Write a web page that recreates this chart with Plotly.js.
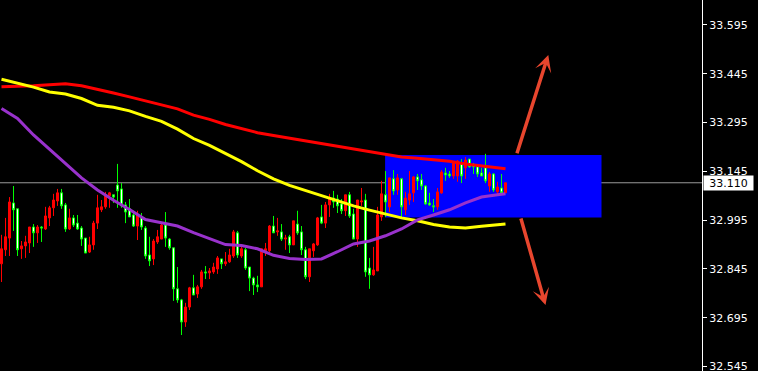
<!DOCTYPE html>
<html>
<head>
<meta charset="utf-8">
<script src="https://cdn.plot.ly/plotly-3.0.1.min.js"></script>
<style>
  html, body { margin: 0; padding: 0; background: #000000; }
  #chart { width: 758px; height: 371px; }
</style>
</head>
<body>
<div id="chart"></div>
<script>
// OHLC bars, oldest first
const openP = [
  32.861, 32.904, 32.940, 33.048, 33.030, 32.907, 32.916, 32.925, 32.974, 32.956,
  32.974, 32.968, 33.002, 33.033, 33.054, 33.079, 33.042, 32.968, 33.002, 32.986,
  32.971, 32.940, 32.897, 32.919, 32.986, 33.027, 33.036, 33.070, 33.073, 33.103,
  33.091, 33.042, 33.030, 33.011, 32.977, 33.005, 32.971, 32.888, 32.876, 32.928,
  32.937, 32.980, 32.937, 32.910, 32.784, 32.750, 32.682, 32.728, 32.787, 32.768,
  32.790, 32.836, 32.833, 32.836, 32.845, 32.876, 32.861, 32.867, 32.885, 32.956,
  32.885, 32.904, 32.851, 32.817, 32.796, 32.790, 32.901, 32.901, 32.977, 32.959,
  32.959, 32.937, 32.944, 32.919, 32.983, 32.959, 32.904, 32.821, 32.901, 32.919,
  33.005, 32.986, 33.042, 33.063, 33.060, 33.045, 33.024, 33.073, 33.014, 32.937,
  33.051, 33.057, 32.848, 32.827, 32.839, 33.005, 33.073, 33.036, 33.122, 33.088,
  33.122, 33.027, 33.057, 33.079, 33.128, 33.119, 33.100, 33.048, 33.039, 33.036,
  33.079, 33.140, 33.137, 33.131, 33.131, 33.171, 33.156, 33.183, 33.165, 33.159,
  33.140, 33.156, 33.100, 33.137, 33.082, 33.094, 33.079
];
const highP = [
  32.950, 33.002, 33.066, 33.100, 33.030, 32.931, 32.947, 32.974, 32.983, 32.980,
  32.977, 33.036, 33.039, 33.076, 33.091, 33.091, 33.048, 33.030, 33.011, 33.011,
  32.977, 32.940, 32.944, 32.993, 33.073, 33.057, 33.082, 33.082, 33.073, 33.168,
  33.109, 33.051, 33.060, 33.024, 33.024, 33.017, 32.977, 32.944, 32.937, 32.965,
  32.986, 33.020, 32.940, 32.910, 32.851, 32.753, 32.741, 32.790, 32.827, 32.796,
  32.842, 32.854, 32.848, 32.864, 32.885, 32.876, 32.897, 32.907, 32.965, 32.962,
  32.919, 32.910, 32.851, 32.821, 32.824, 32.907, 32.925, 32.980, 33.008, 33.002,
  32.983, 32.950, 32.950, 32.993, 33.024, 32.977, 32.913, 32.907, 32.925, 33.005,
  33.042, 33.051, 33.076, 33.085, 33.073, 33.060, 33.073, 33.082, 33.030, 33.057,
  33.094, 33.076, 32.879, 32.913, 33.036, 33.116, 33.146, 33.125, 33.149, 33.137,
  33.125, 33.082, 33.146, 33.131, 33.137, 33.137, 33.103, 33.079, 33.060, 33.094,
  33.149, 33.156, 33.146, 33.177, 33.180, 33.183, 33.189, 33.183, 33.171, 33.165,
  33.156, 33.199, 33.143, 33.140, 33.113, 33.137, 33.110
];
const lowP = [
  32.805, 32.885, 32.885, 32.962, 32.885, 32.876, 32.879, 32.894, 32.913, 32.925,
  32.928, 32.965, 32.977, 33.008, 33.039, 33.030, 32.959, 32.965, 32.974, 32.965,
  32.916, 32.894, 32.894, 32.904, 32.968, 33.020, 33.030, 33.033, 33.048, 33.033,
  33.033, 32.986, 33.005, 32.974, 32.934, 32.965, 32.876, 32.854, 32.857, 32.922,
  32.937, 32.913, 32.904, 32.747, 32.741, 32.642, 32.667, 32.719, 32.765, 32.756,
  32.784, 32.814, 32.814, 32.830, 32.830, 32.845, 32.854, 32.864, 32.879, 32.879,
  32.879, 32.842, 32.777, 32.765, 32.774, 32.790, 32.885, 32.897, 32.956, 32.947,
  32.931, 32.904, 32.894, 32.919, 32.950, 32.888, 32.814, 32.805, 32.882, 32.916,
  32.983, 32.971, 33.005, 33.033, 33.017, 33.014, 33.008, 33.002, 32.937, 32.913,
  33.039, 32.821, 32.784, 32.824, 32.839, 32.993, 33.005, 33.020, 33.073, 33.073,
  33.002, 33.011, 33.042, 33.051, 33.088, 33.088, 33.042, 33.039, 33.020, 33.027,
  33.076, 33.116, 33.125, 33.122, 33.113, 33.109, 33.122, 33.156, 33.137, 33.128,
  33.131, 33.109, 33.082, 33.082, 33.073, 33.073, 33.079
];
const closeP = [
  32.907, 32.944, 33.051, 33.027, 32.904, 32.916, 32.928, 32.974, 32.956, 32.974,
  32.971, 33.008, 33.033, 33.057, 33.079, 33.039, 32.968, 33.002, 32.980, 32.968,
  32.937, 32.894, 32.919, 32.986, 33.033, 33.036, 33.073, 33.079, 33.066, 33.085,
  33.039, 33.020, 33.005, 32.977, 33.011, 32.974, 32.885, 32.870, 32.931, 32.944,
  32.980, 32.940, 32.910, 32.784, 32.750, 32.682, 32.728, 32.787, 32.765, 32.790,
  32.836, 32.833, 32.839, 32.851, 32.879, 32.861, 32.867, 32.888, 32.959, 32.888,
  32.907, 32.848, 32.817, 32.796, 32.790, 32.907, 32.907, 32.977, 32.956, 32.962,
  32.937, 32.940, 32.919, 32.993, 32.956, 32.904, 32.821, 32.907, 32.922, 33.002,
  32.986, 33.042, 33.060, 33.051, 33.039, 33.024, 33.073, 33.008, 32.937, 33.057,
  33.054, 32.836, 32.827, 32.842, 33.011, 33.076, 33.051, 33.125, 33.085, 33.125,
  33.036, 33.063, 33.076, 33.128, 33.116, 33.100, 33.045, 33.042, 33.036, 33.082,
  33.143, 33.134, 33.131, 33.174, 33.177, 33.131, 33.180, 33.159, 33.159, 33.137,
  33.131, 33.116, 33.137, 33.088, 33.097, 33.079, 33.110
];

// Moving averages, read every fourth bar
const maBar = [0, 4, 8, 12, 16, 20, 24, 28, 32, 36, 40, 44, 48, 52, 56, 60, 64,
               68, 72, 76, 80, 84, 88, 92, 96, 100, 104, 108, 112, 116, 120, 124, 126];
const maSlow = [
  33.405, 33.406, 33.408, 33.411, 33.414, 33.408, 33.398, 33.386, 33.374, 33.362,
  33.351, 33.337, 33.318, 33.305, 33.289, 33.277, 33.264, 33.255, 33.247, 33.239,
  33.230, 33.222, 33.214, 33.206, 33.197, 33.189, 33.185, 33.180, 33.176, 33.168,
  33.162, 33.156, 33.153
];
const maMid = [
  33.428, 33.416, 33.404, 33.389, 33.383, 33.369, 33.348, 33.342, 33.331, 33.314,
  33.299, 33.275, 33.246, 33.225, 33.200, 33.175, 33.147, 33.122, 33.102, 33.086,
  33.070, 33.054, 33.039, 33.026, 33.013, 33.002, 32.993, 32.982, 32.974, 32.971,
  32.976, 32.982, 32.983
];
const maFast = [
  33.338, 33.308, 33.257, 33.212, 33.168, 33.125, 33.088, 33.056, 33.028, 32.997,
  32.987, 32.977, 32.957, 32.939, 32.920, 32.917, 32.907, 32.887, 32.877, 32.874,
  32.876, 32.898, 32.922, 32.931, 32.947, 32.968, 32.996, 33.011, 33.027, 33.048,
  33.066, 33.073, 33.076
];

// Price scale labels
const priceTicks = [33.595, 33.445, 33.295, 33.145, 32.995, 32.845, 32.695, 32.545];

// Consolidation zone and breakout arrows (bar index / price)
const zone = { x0: 95.9, x1: 150, y0: 33.003, y1: 33.195 };
const arrowUp = { tail: [128.75, 33.196], tip: [136.7, 33.503] };
const arrowDown = { tail: [129.75, 33.005], tip: [136.0, 32.734] };

const bars = openP.map((_, i) => i);
const lastPrice = closeP[closeP.length - 1];

const FONT = 'DejaVu Sans, Tahoma, sans-serif';
const ARROW = '#E8462E';

const maLine = (y, color) => ({
  type: 'scatter', mode: 'lines', x: maBar, y: y,
  line: { color: color, width: 3 }, hoverinfo: 'skip', showlegend: false
});

const traces = [
  maLine(maSlow, '#FF0000'),
  maLine(maMid, '#FFFF00'),
  maLine(maFast, '#9932CC'),
  {
    type: 'candlestick',
    x: bars, open: openP, high: highP, low: lowP, close: closeP,
    increasing: { line: { color: '#FF0000', width: 1 }, fillcolor: '#FF0000' },
    decreasing: { line: { color: '#00FF00', width: 1 }, fillcolor: '#FFFFFF' },
    whiskerwidth: 0,
    showlegend: false
  }
];

const arrowAnn = (a) => ({
  x: a.tip[0], y: a.tip[1], ax: a.tail[0], ay: a.tail[1],
  xref: 'x', yref: 'y', axref: 'x', ayref: 'y',
  text: '', showarrow: true, arrowhead: 3, arrowsize: 0.8,
  arrowwidth: 3.5, arrowcolor: ARROW, standoff: 0, startstandoff: 0
});

const layout = {
  width: 758, height: 371,
  margin: { l: 0, r: 56, t: 0, b: 0, pad: 0 },
  paper_bgcolor: '#000000',
  plot_bgcolor: '#000000',
  showlegend: false,
  // 2 px bodies plus a 1 px outline: 3 px candles on a 4 px step
  boxgap: 0.5,
  boxgroupgap: 0,
  xaxis: {
    // bar centres fall on pixel centres (4 px per bar)
    range: [-0.375, 175.125],
    visible: false, showgrid: false, zeroline: false,
    rangeslider: { visible: false }, fixedrange: true
  },
  yaxis: {
    side: 'right',
    range: [32.5314, 33.6718],
    tickvals: priceTicks,
    ticktext: priceTicks.map(v => v.toFixed(3)),
    ticks: 'outside', ticklen: 4, tickwidth: 1, tickcolor: '#FFFFFF',
    showline: true, linecolor: '#FFFFFF', linewidth: 1,
    showgrid: false, zeroline: false,
    ticklabeloverflow: 'allow',
    tickfont: { family: FONT, size: 11, color: '#FFFFFF' },
    fixedrange: true
  },
  shapes: [
    {
      type: 'rect', layer: 'below', xref: 'x', yref: 'y',
      x0: zone.x0, x1: zone.x1, y0: zone.y0, y1: zone.y1,
      fillcolor: '#0000FF', line: { width: 0 }
    },
    {
      type: 'line', layer: 'below', xref: 'paper', yref: 'y',
      x0: 0, x1: 1, y0: lastPrice, y1: lastPrice,
      line: { color: '#9A9A9A', width: 1 }
    }
  ],
  annotations: [
    arrowAnn(arrowUp),
    arrowAnn(arrowDown),
    {
      xref: 'paper', yref: 'y', x: 1, y: lastPrice,
      xanchor: 'left', yanchor: 'middle', xshift: 1,
      text: lastPrice.toFixed(3), showarrow: false,
      bgcolor: '#FFFFFF', borderpad: 1, width: 47, height: 12, align: 'center',
      font: { family: FONT, size: 11, color: '#000000' }
    }
  ]
};

Plotly.newPlot('chart', traces, layout, { displayModeBar: false, staticPlot: true });
</script>
</body>
</html>
